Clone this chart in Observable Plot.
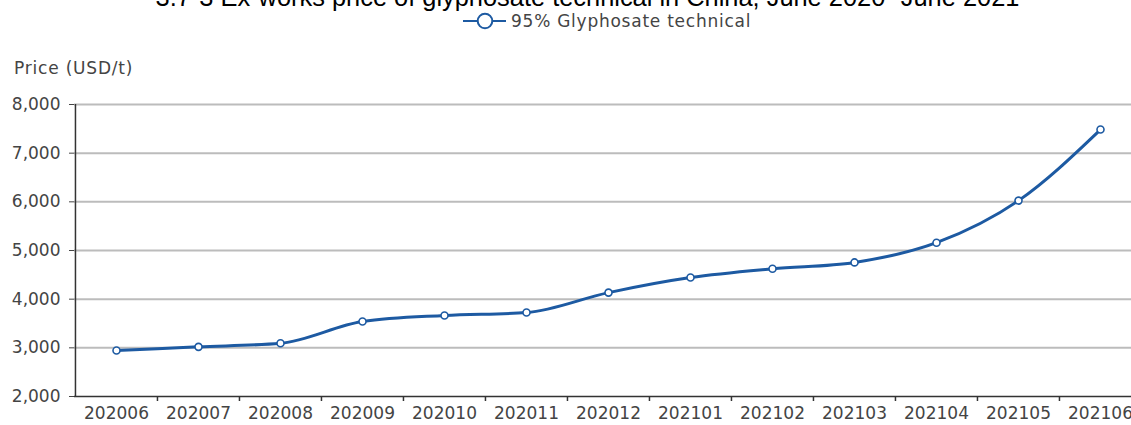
<!DOCTYPE html>
<html>
<head>
<meta charset="utf-8">
<script src="https://cdn.jsdelivr.net/npm/d3@7"></script>
<script src="https://cdn.jsdelivr.net/npm/@observablehq/plot@0.6"></script>
<style>
  html, body { margin: 0; padding: 0; background: #fff; overflow: hidden; }
  #wrap { position: relative; width: 1131px; height: 425px; overflow: hidden; background: #fff; }
  #title { position: absolute; left: 0; width: 1175px; top: -17px; text-align: center;
           font-family: "Liberation Sans", Arial, sans-serif; font-size: 25.4px; color: #000; white-space: nowrap; }
  #legend { position: absolute; left: 462px; top: 9px; display: flex; align-items: center;
            font-family: "DejaVu Sans", sans-serif; font-size: 17px; letter-spacing: 0.75px; color: #444; }
  #ylabel { position: absolute; left: 14px; top: 58px; font-family: "DejaVu Sans", sans-serif;
            font-size: 17px; letter-spacing: 0.8px; color: #444; }
  #chart { position: absolute; left: 0; top: 50px; width: 1141px; }
  #chart svg { max-width: none !important; }
</style>
</head>
<body>
<div id="wrap">
  <div id="title"></div>
  <div id="legend"></div>
  <div id="ylabel"></div>
  <div id="chart"></div>
</div>
<script>
const titleText = "3.7-3 Ex-works price of glyphosate technical in China, June 2020- June 2021";
const seriesName = "95% Glyphosate technical";
const yLabel = "Price (USD/t)";
const months = ["202006","202007","202008","202009","202010","202011","202012","202101","202102","202103","202104","202105","202106"];
const prices = [2945, 3020, 3095, 3540, 3665, 3725, 4135, 4445, 4625, 4755, 5160, 6025, 7485];
const yTicks = [2000, 3000, 4000, 5000, 6000, 7000, 8000];

const lineColor = "#1d5aa2";
const data = months.map((m, i) => ({month: m, price: prices[i]}));

document.getElementById("title").textContent = titleText;
document.getElementById("ylabel").textContent = yLabel;
const leg = document.getElementById("legend");
leg.innerHTML = `<svg width="46" height="24" style="margin-right:3px"><line x1="1" y1="12" x2="44" y2="12" stroke="${lineColor}" stroke-width="2"/><circle cx="23" cy="12" r="7.3" fill="#fff" stroke="${lineColor}" stroke-width="2"/></svg><span>${seriesName}</span>`;

const W = 1141, H = 375, mL = 74, mR = 0, mT = 54, mB = 29;
const bw = (W - mL - mR) / months.length;
const yMin = yTicks[0], yMax = yTicks[yTicks.length - 1];
const tickLen = (yMax - yMin) / (H - mT - mB) * 5;

const chart = Plot.plot({
  width: W,
  height: H,
  marginLeft: mL,
  marginRight: mR,
  marginTop: mT,
  marginBottom: mB,
  style: {fontFamily: "DejaVu Sans, sans-serif", fontSize: "17px", color: "#444", background: "transparent", overflow: "visible", maxWidth: "none"},
  x: {type: "band", domain: months, padding: 0, tickSize: 0, tickPadding: 10, label: null},
  y: {domain: [yMin, yMax], ticks: yTicks, tickFormat: d3.format(","), tickSize: 5, tickPadding: 9, label: null},
  marks: [
    Plot.ruleY(yTicks.slice(1), {stroke: "#bcbcbc", strokeWidth: 2}),
    Plot.ruleY([yMin], {stroke: "#333", strokeWidth: 1.5}),
    Plot.ruleX([months[0]], {x: d => d, y1: yMax, y2: yMin, dx: -bw / 2, stroke: "#333", strokeWidth: 1.5}),
    Plot.ruleX(months.slice(1), {x: d => d, y1: yMin, y2: yMin - tickLen, dx: -bw / 2, stroke: "#333", strokeWidth: 1.5}),
    Plot.line(data, {x: "month", y: "price", stroke: lineColor, strokeWidth: 3, curve: "monotone-x"}),
    Plot.dot(data, {x: "month", y: "price", r: 3.5, fill: "#fff", stroke: lineColor, strokeWidth: 1.6})
  ]
});
document.getElementById("chart").appendChild(chart);
</script>
</body>
</html>
